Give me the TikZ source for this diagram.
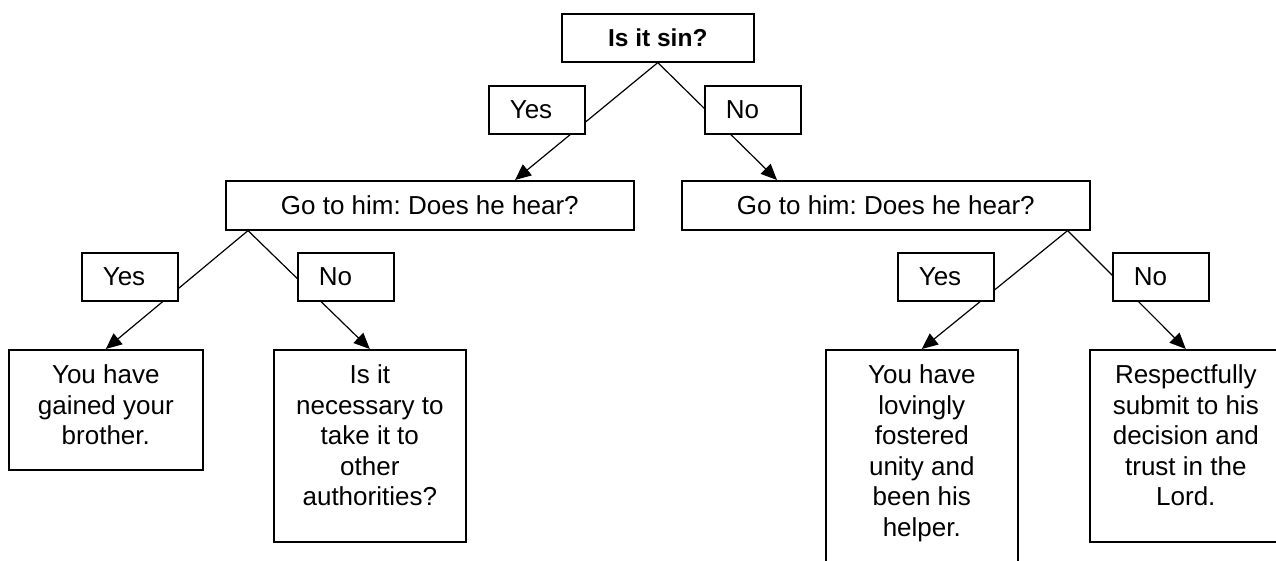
\documentclass[tikz,border=0pt]{standalone}
\usepackage{fontspec}
\setmainfont{Liberation Sans}
\usetikzlibrary{arrows.meta,backgrounds}
\frenchspacing
\begin{document}
\begin{tikzpicture}[x=1pt,y=-1pt,
  box/.style={draw, line width=1.6pt, fill=white, inner sep=0pt, anchor=north west,
    font=\fontsize{26}{30.5}\selectfont},
  single/.style={draw, line width=1.6pt, fill=white, anchor=north west, align=center,
    font=\fontsize{26}{30.5}\selectfont},
  lbl/.style={draw, line width=1.6pt, fill=white, anchor=north west, minimum height=48pt,
    inner xsep=21pt, inner ysep=0pt, text width=54pt, align=left,
    font=\fontsize{26}{30.5}\selectfont},
  conn/.style={line width=1.2pt, -{Triangle[length=16pt,width=14pt]}}]
\useasboundingbox (0,0) rectangle (1276,560);
\clip (0,0) rectangle (1276,560);
% question boxes
\node[single, minimum width=192pt, minimum height=48pt,
  font=\bfseries\fontsize{24.5}{28}\selectfont] (top) at (561,13) {Is it sin?};
\node[single, minimum width=408pt, minimum height=49pt] (gl) at (225,180) {Go to him: Does he hear?};
\node[single, minimum width=408pt, minimum height=49pt] (gr) at (681,180) {Go to him: Does he hear?};
% outcome boxes
\node[box] (b1) at (8,349) {\parbox[t][120pt][t]{194pt}{\centering\rule{0pt}{34pt}You have\\gained your\\brother.}};
\node[box] (b2) at (273,349) {\parbox[t][192pt][t]{192pt}{\centering\rule{0pt}{34pt}Is it\\necessary to\\take it to\\other\\authorities?}};
\node[box] (b3) at (825,349) {\parbox[t][240pt][t]{192pt}{\centering\rule{0pt}{34pt}You have\\lovingly\\fostered\\unity and\\been his\\helper.}};
\node[box] (b4) at (1089,349) {\parbox[t][192pt][t]{192pt}{\centering\rule{0pt}{34pt}Respectfully\\submit to his\\decision and\\trust in the\\Lord.}};
% connectors behind the labels
\begin{scope}[on background layer]
\draw[conn] (top.south) -- ([xshift=290pt]gl.north west);
\draw[conn] (top.south) -- ([xshift=96pt]gr.north west);
\draw[conn] ([xshift=23pt]gl.south west) -- (b1.north);
\draw[conn] ([xshift=23pt]gl.south west) -- (b2.north);
\draw[conn] ([xshift=-23pt]gr.south east) -- (b3.north);
\draw[conn] ([xshift=-23pt]gr.south east) -- (b4.north);
\end{scope}
% yes / no labels
\node[lbl] (y1) at (488,85) {Yes};
\node[lbl] (n1) at (704,85) {No};
\node[lbl] (y2) at (81,252) {Yes};
\node[lbl] (n2) at (297,252) {No};
\node[lbl] (y3) at (897,252) {Yes};
\node[lbl] (n3) at (1112,252) {No};
\end{tikzpicture}
\end{document}
